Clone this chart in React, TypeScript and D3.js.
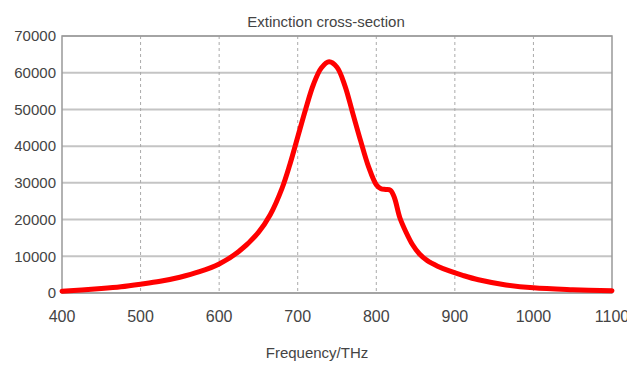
import React from "react";
import * as d3 from "d3";

const freq = [400, 425, 450, 475, 500, 525, 550, 575, 600, 625, 650, 665, 680, 690, 700, 710, 720, 730, 740, 750, 760, 770, 780, 790, 800, 806, 812, 818, 823, 830, 838, 846, 855, 865, 878, 893, 910, 930, 965, 1000, 1050, 1100];
const cross = [500, 800, 1200, 1700, 2400, 3200, 4300, 5800, 7900, 11300, 16500, 21300, 28500, 35000, 42500, 50000, 56800, 61300, 63000, 61500, 56500, 49000, 41500, 34500, 29500, 28400, 28200, 28000, 26000, 20500, 16500, 13200, 10600, 8800, 7300, 6000, 4800, 3600, 2200, 1400, 900, 600];
const xTicks = [400, 500, 600, 700, 800, 900, 1000, 1100];
const yTicks = [0, 10000, 20000, 30000, 40000, 50000, 60000, 70000];
const title = "Extinction cross-section";
const xLabel = "Frequency/THz";

export default function App() {
  const W = 627, H = 365;
  const m = { l: 62, r: 15, t: 36, b: 72 };
  const x = d3.scaleLinear().domain([400, 1100]).range([m.l, W - m.r]);
  const y = d3.scaleLinear().domain([0, 70000]).range([H - m.b, m.t]);
  const pts = freq.map((f, i) => [f, cross[i]] as [number, number]);
  const line = d3.line<[number, number]>().x(d => x(d[0])).y(d => y(d[1])).curve(d3.curveCatmullRom.alpha(0.5));
  const font = "'Liberation Sans', Arial, sans-serif";
  const textColor = "#444";
  return (
    <svg width={W} height={H} style={{ position: "absolute", left: 0, top: 0, background: "#fff" }}>
      <rect x={0} y={0} width={W} height={H} fill="#fff" />
      {yTicks.map(t => (
        <line key={"h" + t} x1={x(400)} x2={x(1100)} y1={y(t)} y2={y(t)} stroke="#c4c4c4" strokeWidth={2} />
      ))}
      {xTicks.slice(1, -1).map(t => (
        <line key={"v" + t} x1={x(t)} x2={x(t)} y1={y(70000)} y2={y(0)} stroke="#aaa" strokeWidth={1} strokeDasharray="3,3" />
      ))}
      <rect x={x(400)} y={y(70000)} width={x(1100) - x(400)} height={y(0) - y(70000)} fill="none" stroke="#999" strokeWidth={1.5} />
      <path d={line(pts) || ""} fill="none" stroke="#ff0000" strokeWidth={5} strokeLinejoin="round" strokeLinecap="round" />
      {yTicks.map(t => (
        <text key={"yl" + t} x={x(400) - 6} y={y(t)} dy="0.35em" textAnchor="end" fontFamily={font} fontSize={15} fill={textColor}>{t}</text>
      ))}
      {xTicks.map(t => (
        <text key={"xl" + t} x={x(t)} y={y(0) + 29} textAnchor="middle" fontFamily={font} fontSize={16} fill={textColor}>{t}</text>
      ))}
      <text x={326} y={27} textAnchor="middle" fontFamily={font} fontSize={15} fill={textColor}>{title}</text>
      <text x={317} y={358} textAnchor="middle" fontFamily={font} fontSize={15} fill={textColor}>{xLabel}</text>
    </svg>
  );
}
